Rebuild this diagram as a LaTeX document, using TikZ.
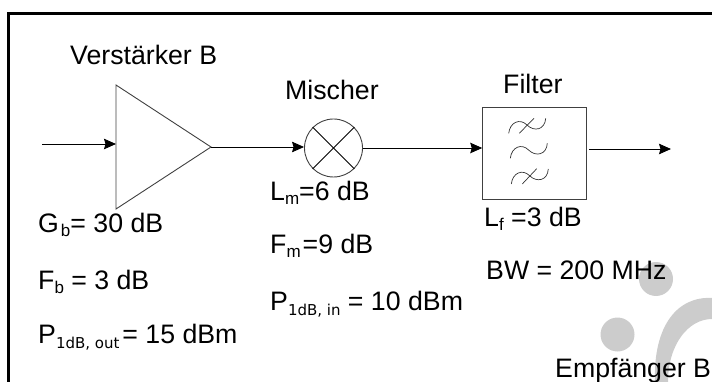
\documentclass[tikz,border=0pt]{standalone}
\usepackage{fontspec}
\setmainfont{Liberation Sans}
\newfontfamily\subfont{DejaVu Sans}
\usetikzlibrary{arrows.meta}
\newcommand{\lowtxt}[1]{\raisebox{-4pt}{\fontsize{17}{17}\selectfont #1}}
\newcommand{\lowdeja}[1]{\raisebox{-5pt}{\fontsize{15}{15}\subfont #1}}
\tikzset{
    label/.style={anchor=base west, inner sep=0pt, font=\fontsize{26.7}{26.7}\selectfont},
    sig/.style={line width=.9pt, -{Stealth[length=12pt, width=10.5pt, inset=1.5pt]}},
    part/.style={line width=.9pt, draw=black!75},
}

\begin{document}
\begin{tikzpicture}[x=1pt, y=-1pt]
            \useasboundingbox(0, 0)rectangle(712, 382);
            % logo behind the text
            \fill[black!20](656, 279)circle(17);
            \fill[black!20](617.5, 334.5)circle(17);
            \fill[black!20](712, 298)..controls(678, 296)and(653, 325)..(655, 382)--(668, 382)..controls(668, 345)and(688, 319)..(712, 319)--cycle;
            % frame
            \draw[line width=2.4pt](8.5, 382)--(8.5, 13.5)--(712, 13.5);
            % amplifier
            \coordinate(ampin)at(116, 144);
            \coordinate(ampout)at(211, 147);
            \coordinate(start)at(42, 144);
            \draw[part](116, 85)--(116, 209)--(ampout)--cycle;
            % mixer
            \node[part, circle, minimum size=58pt, inner sep=0pt](mix)at(333.5, 148){};
            \draw[line width=.8pt](mix.45)--(mix.225);
            \draw[line width=.8pt](mix.135)--(mix.315);
            % filter
            \node[part, rectangle, minimum width=104pt, minimum height=92pt, inner sep=0pt](filt)at(534.7, 153.3){};
            \coordinate(filtout)at(589, 149);
            \coordinate(stop)at(671, 149);
            \foreach \dy/\dx in {0/0, 25/1.6, 50.7/2.6}{
                \draw[line width=.7pt, black!80](508.7+\dx, 133.3+\dy)..controls(510+\dx, 122+\dy)and(520+\dx, 118+\dy)..(527+\dx, 125+\dy)
                    ..controls(534+\dx, 132+\dy)and(545+\dx, 130+\dy)..(545.7+\dx, 118.3+\dy);
            }
            \draw[line width=.7pt, black!80](519.3, 133.3)--(534, 118.3);
            \draw[line width=.7pt, black!80](522.3, 184)--(536.7, 168.7);
            % signal path
            \draw[sig](start)--(ampin);
            \draw[sig](ampout)--(ampout-|mix.west);
            \draw[sig](mix.east)--(mix.east-|filt.west);
            \draw[sig](filtout)--(stop);
            % labels
            \node[label](ampname)at(70, 65){Verstärker B};
            \node[label](mixname)at(285, 100){Mischer};
            \node[label](filtname)at(503, 93.3){Filter};
            \node[label](gb)at(38, 233){G\kern2pt\lowtxt{b}= 30 dB};
            \node[label](fb)at(38, 289){F\lowtxt{b} = 3 dB};
            \node[label](pb)at(38, 343){P\lowdeja{1dB, out}\kern3pt= 15 dBm};
            \node[label](lm)at(270, 200.7){L\lowtxt{m}=6 dB};
            \node[label](fm)at(270, 254){F\lowtxt{m}\kern2pt=9 dB};
            \node[label](pm)at(270, 310){P\lowdeja{1dB, in} = 10 dBm};
            \node[label](lf)at(484, 226){L\lowtxt{f} =3 dB};
            \node[label](bw)at(486, 279){BW = 200 MHz};
            \node[label](rx)at(555, 377){Empfänger B};
        \end{tikzpicture}
\end{document}
